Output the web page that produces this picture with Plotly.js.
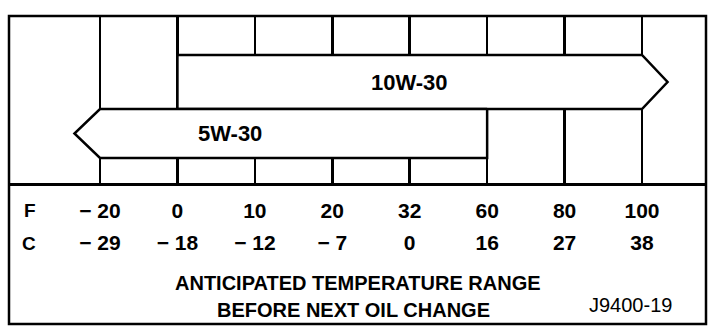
<!DOCTYPE html>
<html>
<head>
<meta charset="utf-8">
<script src="https://cdn.plot.ly/plotly-3.0.1.min.js"></script>
<style>html,body{margin:0;padding:0;background:#fff;}#chart{width:720px;height:334px;}</style>
</head>
<body>
<div id="chart"></div>
<script>
// ---- data ----
const tempF = [-20, 0, 10, 20, 32, 60, 80, 100];
const tempC = [-29, -18, -12, -7, 0, 16, 27, 38];
const grades = ['10W-30', '5W-30'];
const gradeLowF = [0, -20];
const gradeHighF = [100, 60];
const gradeOpenEnd = ['high', 'low'];
const axisTitleLines = ['ANTICIPATED TEMPERATURE RANGE', 'BEFORE NEXT OIL CHANGE'];
const figureCode = 'J9400-19';

// ---- layout helpers ----
const W = 720, H = 334;
const px = v => v / W;            // paper x from pixel
const py = v => 1 - v / H;        // paper y from pixel
const plotTop = 16, plotBottom = 183, plotLeft = 9, plotRight = 706;
const FONT = '"Liberation Sans", Arial, sans-serif';
const fmt = v => v < 0 ? '\u2212 ' + Math.abs(v) : String(v);
const idx = v => tempF.indexOf(v);
const ticks = tempF.map((_, i) => i);

// band geometry (pixels from plot top) per grade row
const bands = [[39, 93], [93, 142]];
const head = 0.33;
const labelPos = [4.0, 1.68];

const traces = grades.map((g, k) => {
  const lo = idx(gradeLowF[k]), hi = idx(gradeHighF[k]);
  const [t, b] = bands[k], m = (t + b) / 2;
  let xs, ys;
  if (gradeOpenEnd[k] === 'high') {
    xs = [lo, hi, hi + head, hi, lo, lo];
    ys = [t, t, m, b, b, t];
  } else {
    xs = [hi, lo, lo - head, lo, hi, hi];
    ys = [t, t, m, b, b, t];
  }
  return {type: 'scatter', mode: 'lines', x: xs, y: ys, fill: 'toself',
    fillcolor: '#ffffff', line: {color: '#000', width: 2.5}, hoverinfo: 'skip',
    showlegend: false, xaxis: 'x', yaxis: 'y'};
});
// invisible trace for the second (Celsius) x axis
traces.push({type: 'scatter', mode: 'markers', x: ticks, y: ticks.map(() => 0),
  marker: {opacity: 0}, hoverinfo: 'skip', showlegend: false, xaxis: 'x2', yaxis: 'y'});

const s = (642 - 100) / 7;
const x0 = -(100 - plotLeft) / s, x1 = x0 + (plotRight - plotLeft) / s;

const annotations = grades.map((g, k) => ({
  xref: 'x', yref: 'y', x: labelPos[k], y: (bands[k][0] + bands[k][1]) / 2,
  text: g, showarrow: false, font: {family: FONT, size: 22, color: '#000', weight: 'bold'},
  xanchor: 'center', yanchor: 'middle'
}));
annotations.push(
  {xref: 'paper', yref: 'paper', x: px(30), y: py(210), text: 'F', showarrow: false,
   font: {family: FONT, size: 19, color: '#000', weight: 'bold'}, xanchor: 'center', yanchor: 'middle'},
  {xref: 'paper', yref: 'paper', x: px(29), y: py(243), text: 'C', showarrow: false,
   font: {family: FONT, size: 19, color: '#000', weight: 'bold'}, xanchor: 'center', yanchor: 'middle'},
  {xref: 'paper', yref: 'paper', x: px(358), y: py(283), text: axisTitleLines[0], showarrow: false,
   font: {family: FONT, size: 20, color: '#000', weight: 'bold'}, xanchor: 'center', yanchor: 'middle'},
  {xref: 'paper', yref: 'paper', x: px(353), y: py(310), text: axisTitleLines[1], showarrow: false,
   font: {family: FONT, size: 20, color: '#000', weight: 'bold'}, xanchor: 'center', yanchor: 'middle'},
  {xref: 'paper', yref: 'paper', x: px(630), y: py(305), text: figureCode, showarrow: false,
   font: {family: FONT, size: 20, color: '#000'}, xanchor: 'center', yanchor: 'middle'}
);

const tickFont = {family: FONT, size: 21, color: '#000', weight: 'bold'};

const layout = {
  width: W, height: H,
  margin: {l: 0, r: 0, t: 0, b: 0, pad: 0},
  paper_bgcolor: '#fff', plot_bgcolor: '#fff',
  showlegend: false,
  xaxis: {
    domain: [px(plotLeft), px(plotRight)], range: [x0, x1], anchor: 'y',
    tickmode: 'array', tickvals: ticks, ticktext: tempF.map(fmt),
    showgrid: true, gridcolor: '#000', gridwidth: 2.5, zeroline: false,
    showline: true, linecolor: '#000', linewidth: 3, ticks: '',
    ticklabelstandoff: 7, tickfont: tickFont, fixedrange: true
  },
  xaxis2: {
    overlaying: 'x', matches: 'x', anchor: 'free', position: py(221), side: 'bottom',
    tickmode: 'array', tickvals: ticks, ticktext: tempC.map(fmt),
    showgrid: false, zeroline: false, showline: false, ticks: '',
    ticklabelstandoff: 7, tickfont: tickFont, fixedrange: true
  },
  yaxis: {
    domain: [py(plotBottom), py(plotTop)], range: [plotBottom - plotTop, 0],
    showgrid: false, zeroline: false, showticklabels: false, showline: false, fixedrange: true
  },
  shapes: [{type: 'rect', xref: 'paper', yref: 'paper',
    x0: px(plotLeft), x1: px(plotRight), y0: py(324), y1: py(plotTop),
    line: {color: '#000', width: 2.5}, fillcolor: 'rgba(0,0,0,0)', layer: 'above'}],
  annotations: annotations
};

Plotly.newPlot('chart', traces, layout, {staticPlot: true, displayModeBar: false});
</script>
</body>
</html>
